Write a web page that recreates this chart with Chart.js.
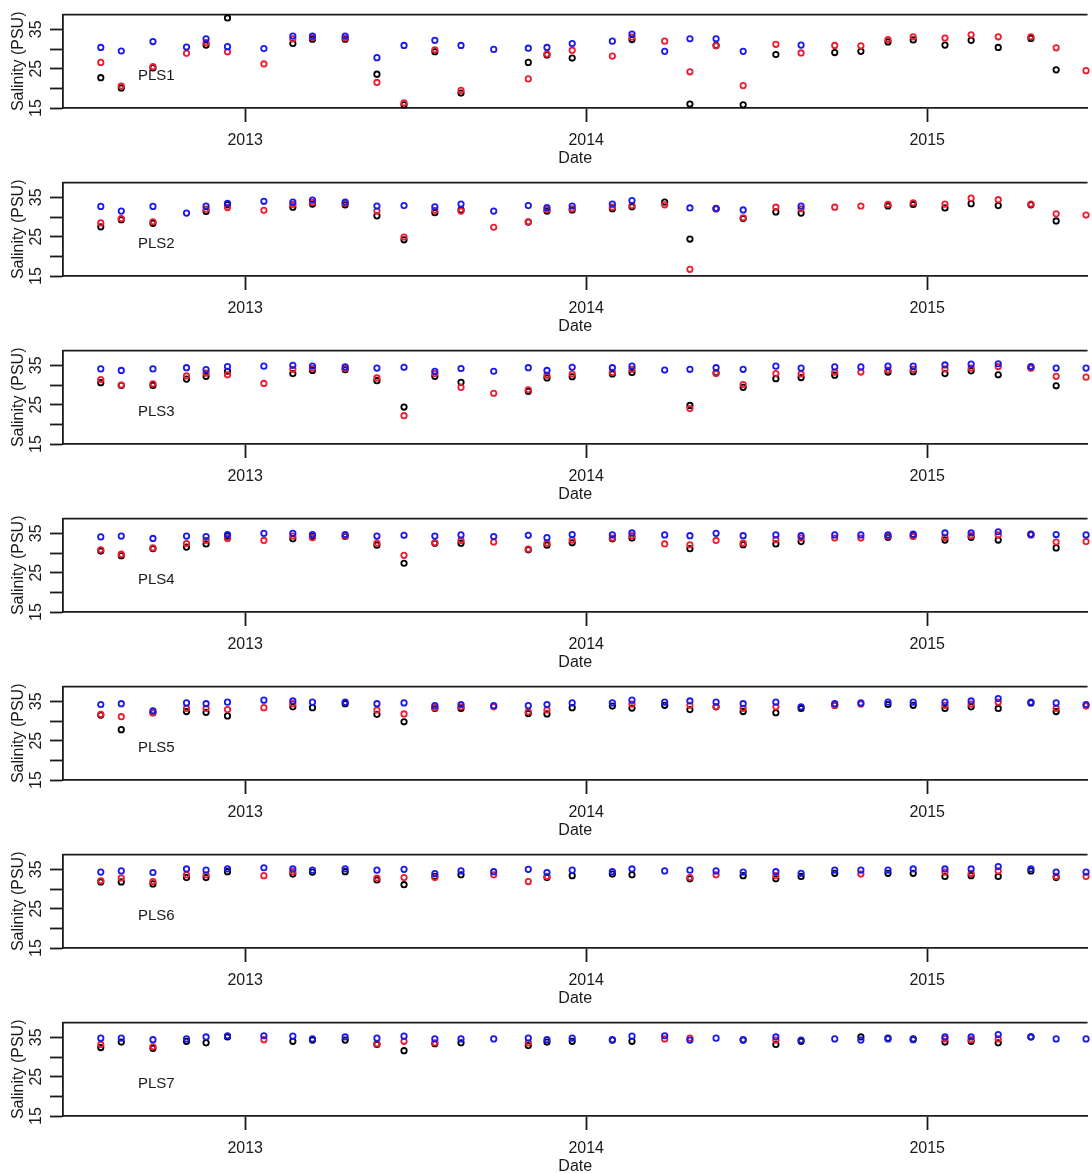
<!DOCTYPE html>
<html>
<head>
<meta charset="utf-8">
<script src="https://cdn.jsdelivr.net/npm/chart.js@4.4.1/dist/chart.umd.min.js"></script>
<style>
  html, body { margin: 0; padding: 0; background: #fff; overflow: hidden; }
  .panel { width: 1092px; height: 168px; }
  canvas { display: block; }
</style>
</head>
<body>
<div id="panels"></div>
<script>
// sampling dates (same for every station)
const dates = [
  "2012-07-30", "2012-08-21", "2012-09-24", "2012-10-30", "2012-11-20", "2012-12-13",
  "2013-01-21", "2013-02-21", "2013-03-14", "2013-04-18", "2013-05-22", "2013-06-20",
  "2013-07-23", "2013-08-20", "2013-09-24", "2013-10-31", "2013-11-20", "2013-12-17",
  "2014-01-29", "2014-02-19", "2014-03-26", "2014-04-22", "2014-05-20", "2014-06-18",
  "2014-07-23", "2014-08-19", "2014-09-24", "2014-10-22", "2014-11-20", "2014-12-17",
  "2015-01-20", "2015-02-17", "2015-03-18", "2015-04-22", "2015-05-19", "2015-06-20"
];
const yearTicks = [2013, 2014, 2015];
const salinityTicks = [15, 20, 25, 30, 35];
const salinityLabels = [15, 25, 35];
const stations = ["PLS1", "PLS2", "PLS3", "PLS4", "PLS5", "PLS6", "PLS7"];

const pls1Black = [22.7, 20.1, 25.2, null, 31.0, 37.9, null, 31.4, 32.5, 32.5, 23.6, 15.8, 29.3, 18.8, null, 26.6, 28.5, 27.7, null, 32.4, null, 16.0, 30.9, 15.8, 28.6, null, 29.1, 29.4, 31.8, 32.3, 31.0, 32.2, 30.4, 32.7, 24.7, null];
const pls1Red = [26.6, 20.6, 25.5, 28.9, 31.6, 29.3, 26.2, 32.6, 32.9, 32.8, 21.5, 16.3, 29.8, 19.5, null, 22.4, 28.7, 29.7, 28.2, 33.0, 32.0, 24.2, 30.8, 20.7, 31.2, 29.0, 30.9, 30.8, 32.4, 33.1, 32.8, 33.6, 33.1, 33.1, 30.3, 24.5];
const pls1Blue = [30.4, 29.5, 31.9, 30.5, 32.6, 30.6, 30.1, 33.3, 33.3, 33.3, 27.8, 30.9, 32.2, 30.9, 29.9, 30.2, 30.4, 31.4, 32.0, 33.8, 29.4, 32.6, 32.6, 29.4, null, 31.0, null, null, null, null, null, null, null, null, null, null];

const pls2Black = [27.5, 29.3, 28.4, null, 31.4, 33.1, null, 32.5, 33.3, 33.1, 30.3, 24.2, 31.1, 31.8, null, 28.7, 31.5, 31.8, 32.1, 32.6, 33.8, 24.4, 32.1, 29.6, 31.3, 31.0, null, null, 32.8, 33.2, 32.3, 33.4, 32.9, 33.1, 29.0, null];
const pls2Red = [28.5, 29.6, 28.8, null, 32.0, 32.4, 31.7, 33.2, 33.7, 33.5, 31.5, 24.9, 31.7, 31.5, 27.4, 28.8, 31.9, 32.1, 32.5, 32.9, 33.1, 16.7, 32.1, 29.8, 32.5, 32.1, 32.5, 32.8, 33.2, 33.6, 33.3, 34.8, 34.4, 33.3, 30.8, 30.5];
const pls2Blue = [32.7, 31.5, 32.7, 31.0, 32.8, 33.5, 34.0, 33.8, 34.3, 33.8, 32.8, 32.9, 32.6, 33.3, 31.5, 32.9, 32.4, 32.8, 33.3, 34.2, null, 32.3, 32.2, 31.8, null, 32.8, null, null, null, null, null, null, null, null, null, null];

const pls3Black = [30.6, 29.9, 29.9, 31.5, 32.2, 33.5, null, 32.9, 33.7, 33.9, 31.1, 24.4, 32.2, 30.7, null, 28.4, 31.8, 32.1, 32.8, 33.2, null, 24.8, 33.1, 29.4, 31.6, 31.9, 32.5, null, 33.3, 33.4, 32.9, 33.6, 32.6, 34.4, 29.8, null];
const pls3Red = [31.4, 30.0, 30.3, 32.3, 33.0, 32.6, 30.4, 34.0, 34.2, 34.2, 31.8, 22.2, 32.9, 29.4, 27.9, 28.8, 32.5, 32.8, 33.2, 34.0, null, 24.0, 32.9, 30.1, 32.9, 32.8, 33.3, 33.3, 33.8, 34.0, 34.1, 34.3, 34.7, 34.3, 32.2, 32.0];
const pls3Blue = [34.1, 33.7, 34.1, 34.4, 33.9, 34.7, 34.8, 35.0, 34.8, 34.6, 34.3, 34.5, 33.5, 34.2, 33.5, 34.4, 33.7, 34.5, 34.4, 34.8, 33.8, 34.0, 34.4, 34.0, 34.8, 34.3, 34.6, 34.6, 34.8, 34.8, 35.1, 35.3, 35.4, 34.7, 34.3, 34.3];

const pls4Black = [30.5, 29.3, 31.1, 31.5, 32.3, 34.3, null, 33.6, 34.2, 34.2, 32.0, 27.4, 32.5, 32.5, null, 30.8, 32.0, 32.6, 33.6, 33.8, null, 31.1, null, 32.1, 32.3, 32.9, null, null, 34.0, 34.4, 33.3, 34.0, 33.3, 34.8, 31.3, null];
const pls4Red = [30.8, 29.7, 31.3, 32.4, 33.2, 33.7, 33.2, 34.3, 33.9, 34.3, 32.5, 29.4, 32.6, 33.2, 32.8, 31.0, 32.5, 33.3, 33.8, 34.4, 32.3, 32.1, 33.2, 32.5, 33.4, 33.8, 33.8, 33.8, 34.3, 34.2, 34.0, 34.4, 34.6, 34.6, 32.8, 32.9];
const pls4Blue = [34.1, 34.3, 33.7, 34.3, 34.2, 34.7, 35.0, 35.0, 34.7, 34.7, 34.3, 34.5, 34.3, 34.6, 34.2, 34.5, 33.9, 34.7, 34.6, 35.1, 34.6, 34.4, 35.0, 34.4, 34.6, 34.4, 34.6, 34.6, 34.6, 34.8, 35.1, 35.1, 35.4, 34.7, 34.7, 34.6];

const pls5Black = [31.5, 27.8, 32.1, 32.4, 32.2, 31.3, null, 33.6, 33.4, 34.4, 31.7, 29.8, 33.2, 33.2, null, 31.9, 31.8, 33.4, 33.8, 33.3, 34.0, 32.9, 33.6, 32.4, 32.1, 33.2, 34.0, null, 34.2, 34.0, 33.2, 33.6, 33.2, 34.6, 32.4, null];
const pls5Red = [31.7, 31.1, 32.1, 33.2, 33.2, 32.9, 33.4, 34.4, null, null, 32.8, 31.8, 33.4, 33.6, 33.6, 32.3, 32.8, null, null, 34.3, null, 34.0, 33.6, 33.2, 33.6, null, 34.0, 34.3, null, null, 34.0, 34.3, 34.8, null, 33.2, 33.8];
const pls5Blue = [34.2, 34.4, 32.6, 34.6, 34.4, 34.8, 35.3, 35.1, 34.8, 34.8, 34.4, 34.6, 33.9, 34.2, 33.9, 33.9, 34.2, 34.6, 34.6, 35.3, 34.8, 35.1, 34.8, 34.4, 34.8, 33.6, 34.4, 34.6, 34.8, 34.8, 34.8, 35.1, 35.7, 34.8, 34.6, 34.2];

const pls6Black = [31.8, 31.8, 31.3, 32.9, 32.9, 34.4, null, 33.8, 34.3, 34.4, 32.3, 31.1, 33.2, 33.6, null, null, 32.9, 33.4, 33.8, 33.6, null, 32.6, null, 33.4, 32.6, 33.2, 34.0, null, 34.0, 34.0, 33.2, 33.4, 33.2, 34.6, 32.9, null];
const pls6Red = [32.1, 32.8, 31.9, 33.6, 33.6, null, 33.4, 34.4, null, null, 32.8, 32.9, 32.9, null, 33.6, 31.9, 33.2, null, null, null, null, 32.9, 33.6, null, 33.4, null, null, 33.8, null, null, 34.3, 34.0, 34.6, null, 33.2, 33.2];
const pls6Blue = [34.3, 34.6, 34.2, 35.1, 34.8, 35.1, 35.4, 35.1, 34.8, 35.1, 34.8, 35.0, 33.9, 34.6, 34.4, 35.0, 34.2, 34.8, 34.4, 35.1, 34.6, 34.8, 34.6, 34.3, 34.4, 34.0, 34.8, 34.8, 34.8, 35.1, 35.1, 35.1, 35.7, 35.1, 34.3, 34.3];

const pls7Black = [32.4, 33.8, 32.2, 34.0, 33.6, 35.1, null, 34.0, 34.3, 34.3, 33.2, 31.6, 33.4, 33.6, null, 32.9, 33.8, 34.0, 34.3, 34.0, null, null, null, 34.3, 33.2, 34.0, null, 35.1, 34.8, 34.6, 33.8, 34.0, 33.6, 35.1, null, null];
const pls7Red = [33.2, null, 32.6, null, null, null, 34.4, null, null, null, 33.4, 34.0, 33.6, null, null, 33.6, null, null, null, null, 34.6, 34.8, null, null, 34.3, null, null, null, null, null, 34.6, 34.4, 34.6, null, null, null];
const pls7Blue = [34.8, 34.8, 34.4, 34.6, 35.1, 35.4, 35.4, 35.3, 34.6, 35.1, 34.8, 35.3, 34.6, 34.6, 34.6, 34.8, 34.4, 34.8, 34.4, 35.3, 35.4, 34.3, 34.8, 34.4, 35.1, 34.3, 34.6, 34.3, 34.6, 34.4, 35.1, 35.1, 35.7, 35.1, 34.6, 34.6];

const seriesByStation = [
  [pls1Black, pls1Red, pls1Blue],
  [pls2Black, pls2Red, pls2Blue],
  [pls3Black, pls3Red, pls3Blue],
  [pls4Black, pls4Red, pls4Blue],
  [pls5Black, pls5Red, pls5Blue],
  [pls6Black, pls6Red, pls6Blue],
  [pls7Black, pls7Red, pls7Blue]
];

const FONT = "'Liberation Sans', Arial, Helvetica, sans-serif";
const INK = "#1a1a1a";
const colors = ["#000000", "#ee1c30", "#1a1aee"];

// date string -> decimal year
function toYear(s) {
  const d = new Date(s + "T00:00:00Z");
  const y = d.getUTCFullYear();
  const start = Date.UTC(y, 0, 1), end = Date.UTC(y + 1, 0, 1);
  return y + (d.getTime() - start) / (end - start);
}
const xs = dates.map(toYear);

function toPoints(values) {
  const pts = [];
  values.forEach((v, i) => { if (v !== null) pts.push({ x: xs[i], y: v }); });
  return pts;
}

// top edge of the box (R style frame, right side runs off the page)
const frameTop = {
  id: "frameTop",
  beforeDatasetsDraw(chart) {
    const { ctx, chartArea: a } = chart;
    ctx.save();
    ctx.strokeStyle = INK;
    ctx.lineWidth = 1.8;
    ctx.beginPath();
    ctx.moveTo(a.left, a.top);
    ctx.lineTo(a.right, a.top);
    ctx.stroke();
    ctx.restore();
  }
};

// station name inside the plot
const stationLabel = {
  id: "stationLabel",
  afterDatasetsDraw(chart, args, opts) {
    const { ctx, chartArea: a } = chart;
    ctx.save();
    ctx.fillStyle = INK;
    ctx.font = "15px " + FONT;
    ctx.textBaseline = "middle";
    ctx.textAlign = "left";
    ctx.fillText(opts.text, a.left + 75, a.top + 61);
    ctx.restore();
  }
};

const container = document.getElementById("panels");

stations.forEach((name, k) => {
  const div = document.createElement("div");
  div.className = "panel";
  const canvas = document.createElement("canvas");
  canvas.width = 1092;
  canvas.height = 168;
  div.appendChild(canvas);
  container.appendChild(div);

  const [black, red, blue] = seriesByStation[k];

  new Chart(canvas.getContext("2d"), {
    type: "scatter",
    data: {
      datasets: [black, red, blue].map((vals, i) => ({
        label: ["black", "red", "blue"][i],
        data: toPoints(vals),
        borderColor: colors[i],
        backgroundColor: "rgba(0,0,0,0)",
        pointRadius: 2.7,
        pointBorderWidth: 1.8,
        pointHoverRadius: 2.7,
        order: 3 - i,
        clip: false
      }))
    },
    plugins: [frameTop, stationLabel],
    options: {
      responsive: false,
      animation: false,
      devicePixelRatio: 1,
      layout: { padding: { top: 13, right: 0, bottom: 0, left: 0 } },
      plugins: {
        legend: { display: false },
        tooltip: { enabled: false },
        stationLabel: { text: name }
      },
      scales: {
        x: {
          type: "linear",
          min: 2012.4657,
          max: 2015.470,
          afterBuildTicks: s => { s.ticks = yearTicks.map(v => ({ value: v })); },
          afterFit: s => { s.height = 60; },
          ticks: {
            callback: v => String(v),
            autoSkip: false,
            maxRotation: 0,
            minRotation: 0,
            padding: 9,
            color: INK,
            font: { size: 16, family: FONT }
          },
          grid: { drawOnChartArea: false, drawTicks: true, tickLength: 14, tickWidth: 1.8, color: INK },
          border: { display: true, color: INK, width: 1.8 },
          title: {
            display: true,
            text: "Date",
            color: INK,
            font: { size: 16, family: FONT },
            padding: { top: 0, bottom: 0 }
          }
        },
        y: {
          min: 15,
          max: 38.75,
          afterBuildTicks: s => { s.ticks = salinityTicks.map(v => ({ value: v })); },
          afterFit: s => { s.width = 63; },
          ticks: {
            callback: v => salinityLabels.includes(v) ? String(v) : "",
            autoSkip: false,
            minRotation: 90,
            maxRotation: 90,
            crossAlign: "center",
            padding: 5,
            color: INK,
            font: { size: 16, family: FONT }
          },
          grid: { drawOnChartArea: false, drawTicks: true, tickLength: 13, tickWidth: 1.8, color: INK },
          border: { display: true, color: INK, width: 1.8 },
          title: {
            display: true,
            text: "Salinity (PSU)",
            color: INK,
            font: { size: 16, family: FONT },
            padding: { top: 9, bottom: 0 }
          }
        }
      }
    }
  });
});
</script>
</body>
</html>
